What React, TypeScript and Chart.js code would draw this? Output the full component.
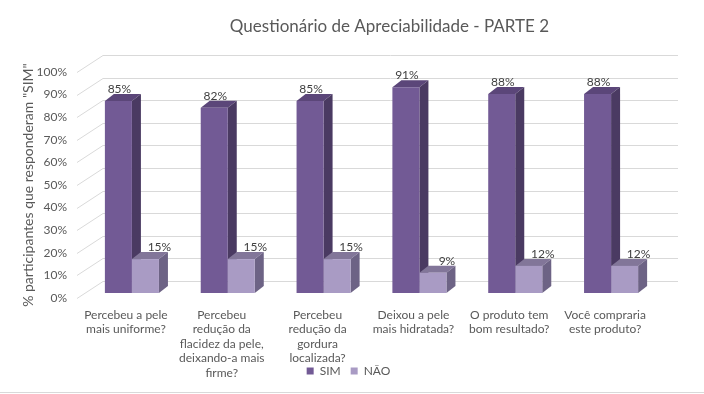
import React, { useEffect, useRef } from 'react';
import { Chart, registerables } from 'chart.js';

Chart.register(...registerables);

// ---------- data ----------
const CHART_TITLE = 'Questionário de Apreciabilidade - PARTE 2';
const Y_AXIS_TITLE = '% participantes que responderam "SIM"';
const CATEGORY_LABELS: string[][] = [
  ['Percebeu a pele', 'mais uniforme?'],
  ['Percebeu', 'redução da', 'flacidez da pele,', 'deixando-a mais', 'firme?'],
  ['Percebeu', 'redução da', 'gordura', 'localizada?'],
  ['Deixou a pele', 'mais hidratada?'],
  ['O produto tem', 'bom resultado?'],
  ['Você compraria', 'este produto?'],
];
const SERIES_NAMES = ['SIM', 'NÃO'];
const SIM_VALUES = [85, 82, 85, 91, 88, 88];
const NAO_VALUES = [15, 15, 15, 9, 12, 12];
const Y_MIN = 0;
const Y_MAX = 100;
const Y_STEP = 10;

// ---------- style ----------
const FONT = 'Lato';
const TEXT_COLOR = '#595959';
const FRONT_COLORS = ['#725a95', '#a99bc4'];
const TOP_COLORS = ['#5b4679', '#827699'];
const SIDE_COLORS = ['#4a3a62', '#6d6385'];
const LABEL_DX = [1, 14];
const GRID_COLOR = '#d9d9d9';
const DEPTH_DX = 9;
const DEPTH_DY = 7;
const BAR_SHIFT_X = 6;
const BAR_SHIFT_Y = -5;
const WALL_DX = 25;
const WALL_DY = 17;
const W = 704;
const H = 394;
const AREA_LEFT = 78;
const AREA_BOTTOM = 298;
const TITLE_SHIFT = 63;
const LEGEND_SHIFT = 22;
const LEGEND_TOP = 355;

const threeD = {
  id: 'threeD',
  beforeDatasetsDraw(chart: any) {
    const { ctx, chartArea: a } = chart;
    const y = chart.scales.y;
    ctx.save();
    ctx.strokeStyle = GRID_COLOR;
    ctx.lineWidth = 1;
    y.ticks.forEach((t: any) => {
      const py = Math.round(y.getPixelForValue(t.value)) + 0.5;
      ctx.beginPath();
      ctx.moveTo(a.left - 1, py);
      ctx.lineTo(a.left + WALL_DX, py - WALL_DY);
      ctx.lineTo(a.right + WALL_DX, py - WALL_DY);
      ctx.stroke();
    });
    ctx.restore();
    ctx.save();
    ctx.translate(BAR_SHIFT_X, BAR_SHIFT_Y);
    chart.data.datasets.forEach((_ds: any, di: number) => {
      const meta = chart.getDatasetMeta(di);
      meta.data.forEach((bar: any) => {
        const { x, y: top, base, width } = bar.getProps(['x', 'y', 'base', 'width'], true);
        const l = x - width / 2;
        const r = x + width / 2;
        ctx.fillStyle = TOP_COLORS[di];
        ctx.beginPath();
        ctx.moveTo(l, top);
        ctx.lineTo(l + DEPTH_DX, top - DEPTH_DY);
        ctx.lineTo(r + DEPTH_DX, top - DEPTH_DY);
        ctx.lineTo(r, top);
        ctx.closePath();
        ctx.fill();
        ctx.fillStyle = SIDE_COLORS[di];
        ctx.beginPath();
        ctx.moveTo(r, top);
        ctx.lineTo(r + DEPTH_DX, top - DEPTH_DY);
        ctx.lineTo(r + DEPTH_DX, base - DEPTH_DY);
        ctx.lineTo(r, base);
        ctx.closePath();
        ctx.fill();
      });
    });
  },
  afterDatasetsDraw(chart: any) {
    const { ctx } = chart;
    ctx.font = `12px ${FONT}`;
    ctx.fillStyle = '#404040';
    ctx.textAlign = 'center';
    ctx.textBaseline = 'middle';
    chart.data.datasets.forEach((ds: any, di: number) => {
      const meta = chart.getDatasetMeta(di);
      meta.data.forEach((bar: any, i: number) => {
        const { x, y: top } = bar.getProps(['x', 'y'], true);
        ctx.fillText(`${ds.data[i]}%`, x + LABEL_DX[di], top - 12);
      });
    });
    ctx.restore();
  },
  afterLayout(chart: any) {
    const lg = chart.legend;
    if (lg) {
      const h = lg.bottom - lg.top;
      lg.top = LEGEND_TOP;
      lg.bottom = LEGEND_TOP + h;
      lg.left += LEGEND_SHIFT;
      lg.right += LEGEND_SHIFT;
    }
    const tb = chart.titleBlock;
    if (tb) {
      tb.left += TITLE_SHIFT;
      tb.right += TITLE_SHIFT;
    }
    const xs = chart.scales.x;
    if (xs) {
      xs.bottom = H;
      xs.height = H - xs.top;
    }
  },
};

export default function App() {
  const ref = useRef<HTMLCanvasElement>(null);
  useEffect(() => {
    if (!ref.current) return;
    const chart = new Chart(ref.current, {
      type: 'bar',
      data: {
        labels: CATEGORY_LABELS,
        datasets: [
          {
            label: SERIES_NAMES[0],
            data: SIM_VALUES,
            backgroundColor: FRONT_COLORS[0],
            borderWidth: 0,
            barPercentage: 1,
            categoryPercentage: 0.564,
            clip: false as any,
          },
          {
            label: SERIES_NAMES[1],
            data: NAO_VALUES,
            backgroundColor: FRONT_COLORS[1],
            borderWidth: 0,
            barPercentage: 1,
            categoryPercentage: 0.564,
            clip: false as any,
          },
        ],
      },
      options: {
        responsive: false,
        animation: false,
        layout: { padding: { left: 0, right: 51, top: 0, bottom: 0 } },
        plugins: {
          title: {
            display: true,
            text: CHART_TITLE,
            color: TEXT_COLOR,
            font: { family: FONT, size: 17, weight: 'normal' },
            padding: { top: 16, bottom: 35.6 },
          },
          legend: {
            display: true,
            position: 'bottom',
            labels: {
              boxWidth: 7,
              boxHeight: 7,
              padding: 10,
              color: TEXT_COLOR,
              font: { family: FONT, size: 12 },
            },
          },
          tooltip: { enabled: false },
        },
        scales: {
          x: {
            type: 'category',
            grid: { display: false, drawTicks: false },
            border: { display: false },
            ticks: {
              color: TEXT_COLOR,
              font: { family: FONT, size: 12 },
              padding: 10,
              autoSkip: false,
              maxRotation: 0,
              minRotation: 0,
            },
            afterFit(scale: any) {
              const lh = scale.chart.legend ? scale.chart.legend.height : 0;
              scale.height = H - AREA_BOTTOM - lh;
            },
          },
          y: {
            min: Y_MIN,
            max: Y_MAX,
            grid: { display: false, drawTicks: false },
            border: { display: false },
            ticks: {
              stepSize: Y_STEP,
              color: TEXT_COLOR,
              font: { family: FONT, size: 12 },
              padding: 11,
              callback: (v: any) => `${v}%`,
            },
            title: {
              display: true,
              text: Y_AXIS_TITLE,
              color: TEXT_COLOR,
              font: { family: FONT, size: 14 },
              padding: { top: 20, bottom: 0 },
            },
            afterFit(scale: any) {
              scale.width = AREA_LEFT;
            },
          },
        },
      },
      plugins: [threeD],
    });
    return () => chart.destroy();
  }, []);
  return (
    <div style={{ position: 'absolute', left: 0, top: 0, width: W, height: H, background: '#fff' }}>
      <canvas ref={ref} width={W} height={H} style={{ display: 'block' }} />
      <div style={{ position: 'absolute', left: 0, top: 392, width: W, height: 1, background: '#d9d9d9' }} />
    </div>
  );
}
